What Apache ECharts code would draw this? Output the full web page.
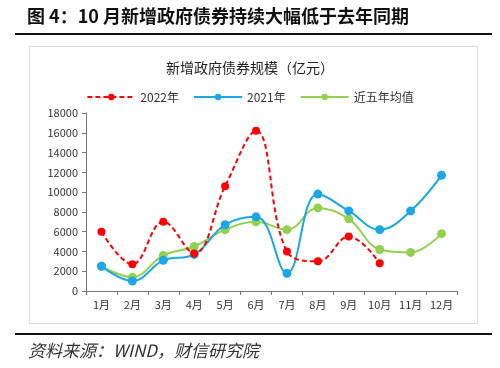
<!DOCTYPE html>
<html><head><meta charset="utf-8">
<script src="https://cdn.jsdelivr.net/npm/echarts@6/dist/echarts.min.js"></script>
<style>html,body{margin:0;padding:0;background:#fff}#c{width:500px;height:368px}</style>
</head><body><div id="c"></div>
<script>
const months = ['1月','2月','3月','4月','5月','6月','7月','8月','9月','10月','11月','12月'];
const s2022 = [6000, 2700, 7000, 3800, 10600, 16200, 4000, 3000, 5500, 2800];
const s2021 = [2500, 1000, 3100, 3700, 6700, 7500, 1800, 9800, 8100, 6200, 8100, 11700];
const sAvg = [2500, 1400, 3600, 4500, 6200, 7000, 6200, 8400, 7300, 4200, 3900, 5800];
const seriesNames = ['2022年', '2021年', '近五年均值'];
const yTicks = [0, 2000, 4000, 6000, 8000, 10000, 12000, 14000, 16000, 18000];
const figTitle = '图 4：10 月新增政府债券持续大幅低于去年同期';
const chartTitle = '新增政府债券规模（亿元）';
const sourceText = '资料来源：WIND，财信研究院';

const chart = echarts.init(document.getElementById('c'));
const font = '"Noto Sans CJK SC", sans-serif';
chart.setOption({
  animation: false,
  backgroundColor: '#fff',
  title: {
    text: chartTitle, left: 'center', top: 56,
    textStyle: { fontFamily: font, fontSize: 14, fontWeight: 'normal', color: '#222' }
  },
  legend: {
    top: 86, left: 'center', itemGap: 14, itemWidth: 48, itemHeight: 8,
    textStyle: { fontFamily: font, fontSize: 12, color: '#333' },
    data: seriesNames
  },
  grid: { left: 86, right: 43, top: 113, bottom: 77 },
  xAxis: {
    type: 'category', data: months, boundaryGap: true,
    axisLine: { lineStyle: { color: '#777' } },
    axisTick: { show: true, length: 4, lineStyle: { color: '#777' } },
    axisLabel: { fontFamily: font, fontSize: 11, color: '#333', margin: 8 }
  },
  yAxis: {
    type: 'value', min: yTicks[0], max: yTicks[yTicks.length - 1], interval: yTicks[1] - yTicks[0],
    axisLine: { show: true, lineStyle: { color: '#777' } },
    axisTick: { show: true, length: 4, lineStyle: { color: '#777' } },
    splitLine: { show: false },
    axisLabel: { fontFamily: font, fontSize: 11, color: '#333', margin: 8, formatter: v => String(v) }
  },
  series: [
    { name: seriesNames[0], type: 'line', smooth: 0.4, data: s2022,
      symbol: 'circle', symbolSize: 8, color: '#ff0000',
      lineStyle: { color: '#ff0000', width: 2, type: [5, 3] },
      itemStyle: { color: '#ff0000' }, z: 3 },
    { name: seriesNames[1], type: 'line', smooth: 0.4, data: s2021,
      symbol: 'circle', symbolSize: 9, color: '#1ca6e4',
      lineStyle: { color: '#1ca6e4', width: 2 },
      itemStyle: { color: '#1ca6e4' }, z: 2 },
    { name: seriesNames[2], type: 'line', smooth: 0.4, data: sAvg,
      symbol: 'circle', symbolSize: 9, color: '#92d050',
      lineStyle: { color: '#92d050', width: 2 },
      itemStyle: { color: '#92d050' }, z: 1 }
  ],
  graphic: [
    { type: 'text', left: 27, top: 7,
      style: { text: figTitle, font: 'bold 18px "Noto Sans CJK SC", sans-serif', fill: '#111' } },
    { type: 'rect', shape: { x: 15, y: 33, width: 477, height: 2 }, style: { fill: '#111' } },
    { type: 'rect', shape: { x: 29.5, y: 46.5, width: 448, height: 277 },
      style: { fill: 'none', stroke: '#d9d9d9', lineWidth: 1 }, z: -1 },
    { type: 'rect', shape: { x: 15, y: 333, width: 477, height: 2 }, style: { fill: '#111' } },
    { type: 'text', left: 28, top: 342,
      style: { text: sourceText, font: 'italic 17px "Noto Sans CJK SC", serif', fill: '#333' } }
  ]
});
</script></body></html>
